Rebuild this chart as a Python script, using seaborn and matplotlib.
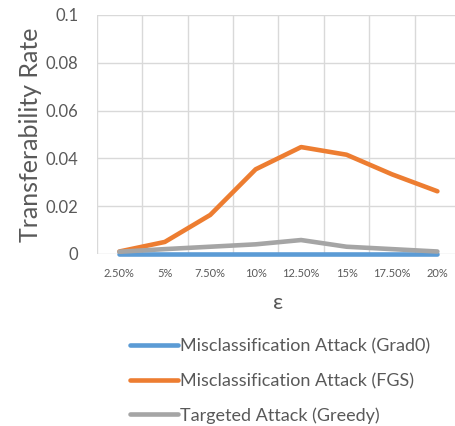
import matplotlib
matplotlib.use('Agg')
import matplotlib.pyplot as plt
import seaborn as sns
import pandas as pd

# data
eps_labels = ['2.50%', '5%', '7.50%', '10%', '12.50%', '15%', '17.50%', '20%']
grad0 = [0, 0, 0, 0, 0, 0, 0, 0]
fgs = [0.001, 0.005, 0.0163, 0.0354, 0.0447, 0.0415, 0.0333, 0.0262]
greedy = [0.0009, 0.002, 0.003, 0.004, 0.0058, 0.003, 0.002, 0.001]
series_names = ['Misclassification Attack (Grad0)',
                'Misclassification Attack (FGS)',
                'Targeted Attack (Greedy)']
colors = ['#5B9BD5', '#ED7D31', '#A5A5A5']

rows = []
for name, vals in zip(series_names, [grad0, fgs, greedy]):
    for i, v in enumerate(vals):
        rows.append({'idx': i, 'rate': v, 'series': name})
df = pd.DataFrame(rows)

sns.set_style('white')
plt.rcParams['font.family'] = ['Lato', 'DejaVu Sans']
text_col = '#595959'

fig = plt.figure(figsize=(4.56, 4.26), dpi=100)
ax = fig.add_axes([0.212, 0.404, 0.797, 0.561])

sns.lineplot(data=df, x='idx', y='rate', hue='series', palette=colors,
             hue_order=series_names, linewidth=3.3, ax=ax, legend=False,
             solid_capstyle='round', zorder=3)
for ln in ax.lines:
    ln.set_clip_on(False)

ax.set_xlim(-0.5, 7.5)
ax.set_ylim(0, 0.1)
ax.set_xticks(range(len(eps_labels)))
ax.set_xticklabels(eps_labels, fontsize=8, color=text_col)
ax.set_yticks([0, 0.02, 0.04, 0.06, 0.08, 0.1])
ax.set_yticklabels(['0', '0.02', '0.04', '0.06', '0.08', '0.1'], fontsize=12, color=text_col)
ax.tick_params(axis='y', length=0, pad=13)
ax.tick_params(axis='x', length=0, pad=10)

# Excel-style grid between categories
for xv in [i - 0.5 for i in range(9)]:
    ax.axvline(xv, color='#D9D9D9', lw=1, zorder=0)
for yv in [0.02, 0.04, 0.06, 0.08, 0.1]:
    ax.axhline(yv, color='#D9D9D9', lw=1, zorder=0)
ax.axhline(0, color='#D9D9D9', lw=1, zorder=1)
for s in ax.spines.values():
    s.set_visible(False)

ax.set_xlabel('ε', fontsize=16, color=text_col, labelpad=10)
ax.set_ylabel('Transferability Rate', fontsize=18, color=text_col, labelpad=3)

handles = [plt.Line2D([], [], color=c, lw=3.3, solid_capstyle='round') for c in colors]
fig.legend(handles, series_names, loc='upper left', bbox_to_anchor=(0.27, 0.222),
           frameon=False, fontsize=13, handlelength=2.65, handletextpad=0.1,
           labelspacing=1.0, labelcolor=text_col, borderaxespad=0)

fig.savefig('out.png', dpi=100)
